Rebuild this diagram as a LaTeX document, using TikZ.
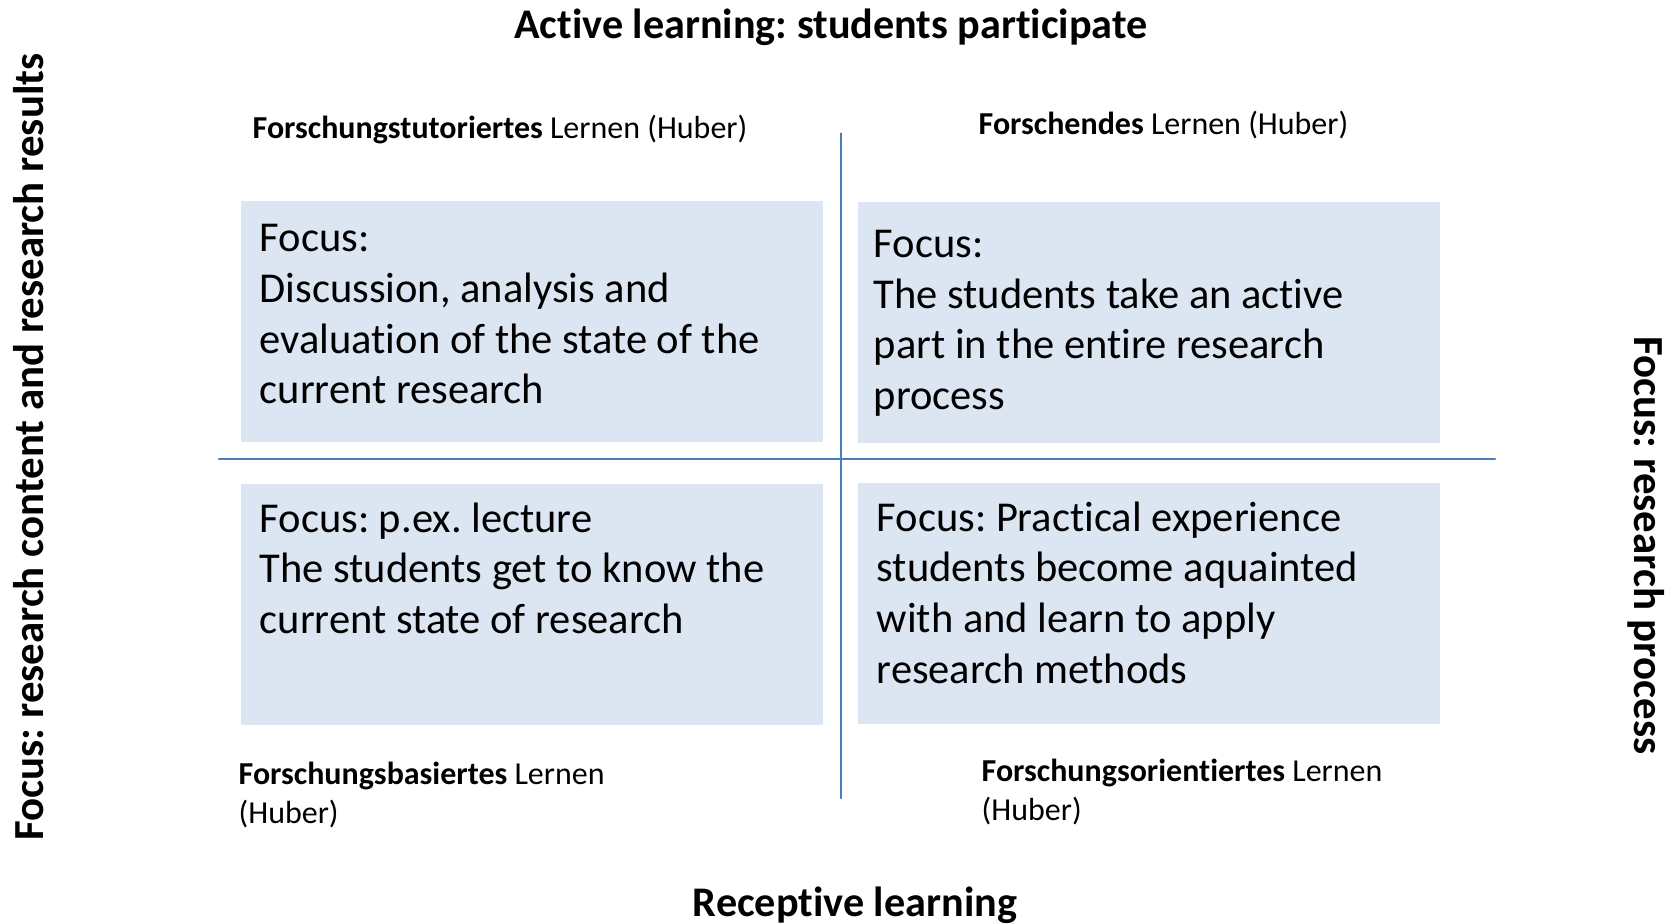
\documentclass[tikz,border=0pt]{standalone}
\usepackage{fontspec}
\setmainfont{Carlito}[Ligatures=NoCommon]
\usetikzlibrary{positioning}
\frenchspacing

\definecolor{quadfill}{HTML}{DCE6F2}
\definecolor{axisblue}{HTML}{4A7EBB}

\tikzset{
  quad/.style={fill=quadfill, minimum width=5.825cm, minimum height=2.41cm, inner sep=0pt, anchor=north west},
  quadtext/.style={anchor=north west, align=left, inner sep=0pt, font=\fontsize{12.1}{14.4}\selectfont},
  huber/.style={align=left, inner sep=0pt, font=\fontsize{9.1}{11.2}\selectfont},
  axislabel/.style={anchor=base, inner sep=0pt, font=\bfseries\fontsize{12}{14}\selectfont},
  sidelabel/.style={anchor=base, inner sep=0pt, font=\bfseries\fontsize{12.2}{14}\selectfont},
  axisline/.style={draw=axisblue, line width=0.6pt}
}

\begin{document}
\begin{tikzpicture}[line join=round, line cap=round]
	\useasboundingbox (0,0) rectangle (16.75,9.23);
	% axes
	\coordinate (top) at (8.41,7.895);
	\coordinate (bottom) at (8.41,1.25);
	\coordinate (left) at (2.19,4.64);
	\coordinate (right) at (14.95,4.64);
	\draw[axisline] (top)--(bottom) (left)--(right);
	% the four quadrants
	\node[quad] (tl) at (2.40,7.23) {};
	\node[quad] (tr) at (8.57,7.22) {};
	\node[quad] (bl) at (2.40,4.40) {};
	\node[quad] (br) at (8.57,4.41) {};
	\node[quadtext] (tltext) at (2.59,6.99) {Focus:\\Discussion, analysis and\\evaluation of the state of the\\current research};
	\node[quadtext] (trtext) at (8.73,6.935) {Focus:\\The students take an active\\part in the entire research\\process};
	\node[quadtext] (bltext) at (2.59,4.21) {Focus: p.ex. lecture\\The students get to know the\\current state of research};
	\node[quadtext] (brtext) at (8.76,4.22) {Focus: Practical experience\\students become aquainted\\with and learn to apply\\research methods};
	% Huber labels
	\node[huber, anchor=west] (tllabel) at (2.52,7.93) {\textbf{Forschungstutoriertes} Lernen (Huber)};
	\node[huber, anchor=west] (trlabel) at (9.78,7.98) {\textbf{Forschendes} Lernen (Huber)};
	\node[huber, anchor=north west] (bllabel) at (2.38,1.62) {\textbf{Forschungsbasiertes} Lernen\\(Huber)};
	\node[huber, anchor=north west] (brlabel) at (9.81,1.65) {\textbf{Forschungsorientiertes} Lernen\\(Huber)};
	% axis titles
	\node[axislabel] (active) at (8.31,8.84) {Active learning: students participate};
	\node[axislabel] (receptive) at (8.55,0.07) {Receptive learning};
	\node[sidelabel, rotate=90] (content) at (0.43,4.76) {Focus: research content and research results};
	\node[sidelabel, rotate=-90] (process) at (16.34,3.775) {Focus: research process};
\end{tikzpicture}
\end{document}
